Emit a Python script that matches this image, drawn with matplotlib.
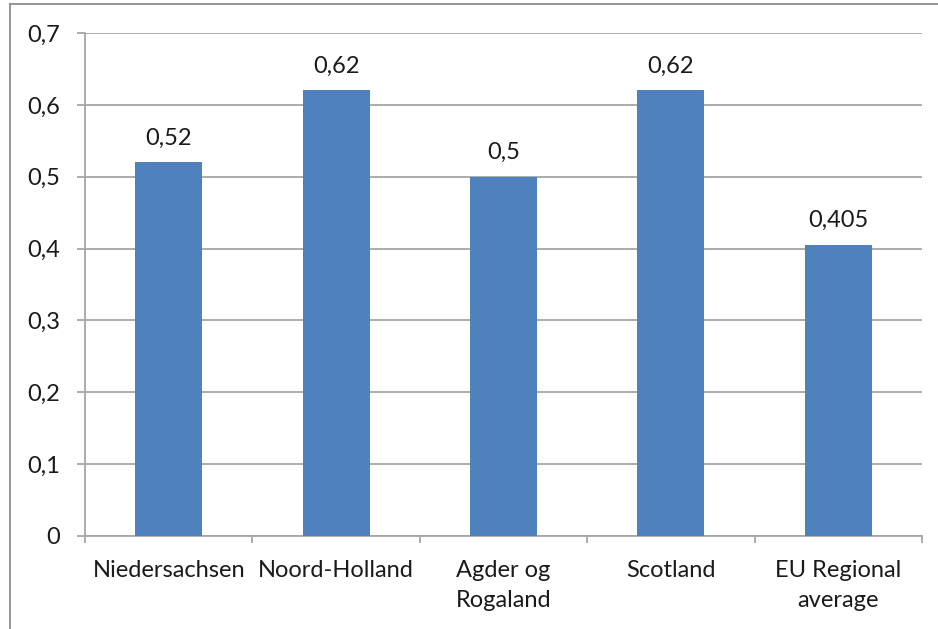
import matplotlib
matplotlib.use("Agg")
import matplotlib.pyplot as plt
from matplotlib.lines import Line2D

categories = ["Niedersachsen", "Noord-Holland", "Agder og\nRogaland", "Scotland", "EU Regional\naverage"]
values = [0.52, 0.62, 0.5, 0.62, 0.405]
value_labels = ["0,52", "0,62", "0,5", "0,62", "0,405"]
y_ticks = [0, 0.1, 0.2, 0.3, 0.4, 0.5, 0.6, 0.7]
y_tick_labels = ["0", "0,1", "0,2", "0,3", "0,4", "0,5", "0,6", "0,7"]

W, H = 938, 629
FS = 17
plt.rcParams["font.family"] = ["Lato", "DejaVu Sans"]
fig = plt.figure(figsize=(W / 100, H / 100), dpi=100)
ax = fig.add_axes([85 / W, 1 - 536 / H, (922 - 85) / W, (536 - 33) / H])

grid_col = "#A6A6A6"
text_col = "#1A1A1A"
bar_col = "#4F81BD"

x = list(range(len(categories)))
ax.bar(x, values, width=0.4, color=bar_col, zorder=3)
for xi, v, lab in zip(x, values, value_labels):
    ax.annotate(lab, (xi, v), xytext=(0, 10), textcoords="offset points",
                ha="center", va="bottom", fontsize=FS, color=text_col)

ax.set_xlim(-0.5, len(categories) - 0.5)
ax.set_ylim(0, 0.7)
ax.set_yticks(y_ticks)
ax.set_yticklabels(y_tick_labels, fontsize=FS, color=text_col)
ax.yaxis.grid(True, color=grid_col, linewidth=1.3, zorder=0)
ax.set_axisbelow(True)

# category labels centred, tick marks on category boundaries
ax.set_xticks(x)
ax.set_xticklabels(categories, fontsize=FS, color=text_col, linespacing=1.5)
ax.tick_params(axis="x", length=0, pad=17.5)
ax.set_xticks([i - 0.5 for i in range(len(categories) + 1)], minor=True)
ax.tick_params(axis="x", which="minor", length=5, width=1.3, color=grid_col)
ax.tick_params(axis="y", length=5.8, width=1.3, color=grid_col, pad=12)

for s in ["top", "right"]:
    ax.spines[s].set_visible(False)
for s in ["left", "bottom"]:
    ax.spines[s].set_color(grid_col)
    ax.spines[s].set_linewidth(1.3)

# outer chart-area frame
frame_col = "#8C8C8C"
fig.add_artist(Line2D([10 / W, 10 / W], [0, 1 - 4 / H], transform=fig.transFigure,
                      color=frame_col, linewidth=1.3))
fig.add_artist(Line2D([10 / W, 1], [1 - 4 / H, 1 - 4 / H], transform=fig.transFigure,
                      color=frame_col, linewidth=1.3))

fig.savefig("out.png", dpi=100)
